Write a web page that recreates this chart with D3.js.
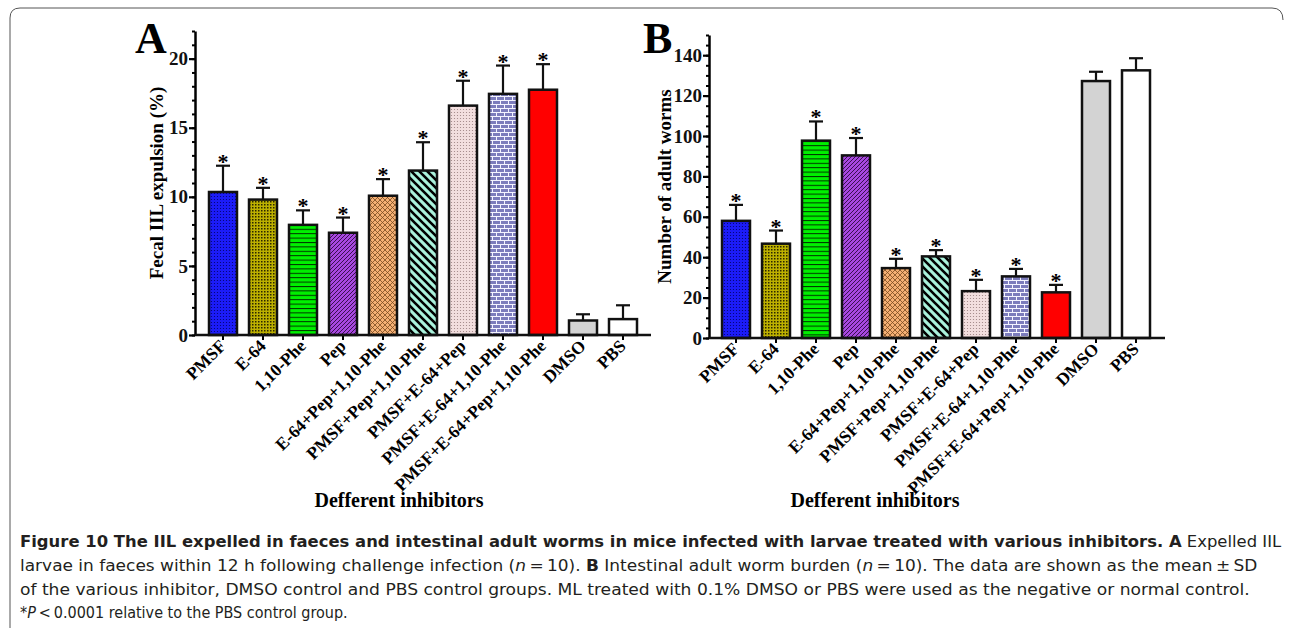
<!DOCTYPE html>
<html>
<head>
<meta charset="utf-8">
<script src="https://cdn.jsdelivr.net/npm/d3@7"></script>
<style>
  body { margin: 0; background: #fff; }
  .serif { font-family: 'Liberation Serif', 'Times New Roman', serif; font-weight: bold; }
  .caption { font-family: 'DejaVu Sans Condensed', 'DejaVu Sans', sans-serif; font-stretch: condensed; font-size: 16.5px; fill: #231f20; }
</style>
</head>
<body>
<script>
// chart data
const groups = ['PMSF', 'E-64', '1,10-Phe', 'Pep', 'E-64+Pep+1,10-Phe', 'PMSF+Pep+1,10-Phe',
  'PMSF+E-64+Pep', 'PMSF+E-64+1,10-Phe', 'PMSF+E-64+Pep+1,10-Phe', 'DMSO', 'PBS'];
const expulsionMean = [10.35, 9.8, 7.97, 7.4, 10.08, 11.9, 16.6, 17.45, 17.75, 1.05, 1.15];
const expulsionSD   = [1.9, 0.85, 1.05, 1.1, 1.2, 2.05, 1.8, 2.05, 1.85, 0.45, 1.0];
const wormMean = [58, 46.7, 97.7, 90.4, 34.6, 40.4, 23.2, 30.5, 22.6, 127.2, 132.5];
const wormSD   = [7.9, 6.5, 9.5, 8.6, 4.6, 3.1, 5.6, 3.7, 3.7, 4.6, 6.0];
const significant = [true, true, true, true, true, true, true, true, true, false, false];
const expulsionTicks = [0, 5, 10, 15, 20];
const wormTicks = [0, 20, 40, 60, 80, 100, 120, 140];

const barFills = ['url(#p-pmsf)', 'url(#p-e64)', 'url(#p-phe)', 'url(#p-pep)', 'url(#p-c1)',
  'url(#p-c2)', 'url(#p-c3)', 'url(#p-c4)', '#ff0000', '#d3d3d3', '#ffffff'];

const svg = d3.select('body')
  .append('svg')
    .attr('width', 1292)
    .attr('height', 631);

// fill patterns
const defs = svg.append('defs');
function pattern(id, w, h, bg) {
  const p = defs.append('pattern')
    .attr('id', id)
    .attr('patternUnits', 'userSpaceOnUse')
    .attr('width', w)
    .attr('height', h);
  p.append('rect').attr('width', w).attr('height', h).attr('fill', bg);
  return p;
}
pattern('p-pmsf', 3, 3, '#1c1cf8')
  .append('circle').attr('cx', 1.5).attr('cy', 1.5).attr('r', 0.6).attr('fill', '#00006a');
const e64 = pattern('p-e64', 3, 3, '#bdb000');
e64.append('rect').attr('width', 1.5).attr('height', 1.5).attr('fill', '#2a2600');
pattern('p-phe', 10, 4.4, '#00f000')
  .append('rect').attr('width', 10).attr('height', 1).attr('fill', '#003000');
pattern('p-pep', 4, 4, '#a848e0')
  .append('path').attr('d', 'M0,4L4,0M-1,1L1,-1M3,5L5,3').attr('stroke', '#3a1050').attr('stroke-width', 1);
pattern('p-c1', 5, 5, '#f4b074')
  .append('path').attr('d', 'M0,5L5,0M0,0L5,5').attr('stroke', '#7a4a20').attr('stroke-width', 0.8);
pattern('p-c2', 8, 8, '#aaf2dc')
  .append('path').attr('d', 'M0,0L8,8M-4,4L4,12M4,-4L12,4').attr('stroke', '#000').attr('stroke-width', 2.6);
pattern('p-c3', 3, 3, '#f2dede')
  .append('circle').attr('cx', 1.5).attr('cy', 1.5).attr('r', 0.6).attr('fill', '#9a8080');
const brick = pattern('p-c4', 8, 8, '#7c7cbc');
brick.append('path')
  .attr('d', 'M0,0.5H8M0,4.5H8M0.5,0V4M4.5,4V8')
  .attr('stroke', '#f4f4ff').attr('stroke-width', 1);

// figure frame
svg.append('path')
  .attr('d', 'M10,628 L10,18 Q10,8 20,8 L1272,8 Q1283,8 1283,20')
  .attr('fill', 'none')
  .attr('stroke', '#555')
  .attr('stroke-width', 1);

function drawPanel(opt) {
  const g = svg.append('g');

  const y = d3.scaleLinear()
    .domain([0, opt.yMax])
    .range([opt.y0, opt.yTop]);

  const x = d3.scaleBand()
    .domain(groups)
    .range([opt.barStart, opt.barStart + 428])
    .paddingInner(0.3)
    .paddingOuter(0);

  const bw = x.bandwidth();

  // bars
  g.selectAll('rect.bar')
    .data(groups)
    .join('rect')
      .attr('class', 'bar')
      .attr('x', d => x(d))
      .attr('y', (d, i) => y(opt.means[i]))
      .attr('width', bw)
      .attr('height', (d, i) => opt.y0 - y(opt.means[i]))
      .attr('fill', (d, i) => barFills[i])
      .attr('stroke', '#111')
      .attr('stroke-width', 2.5);

  // error bars (upper only)
  const err = g.selectAll('g.err')
    .data(groups)
    .join('g')
      .attr('class', 'err')
      .attr('stroke', '#111')
      .attr('stroke-width', 2.2);
  err.append('line')
    .attr('x1', d => x(d) + bw / 2)
    .attr('x2', d => x(d) + bw / 2)
    .attr('y1', (d, i) => y(opt.means[i]))
    .attr('y2', (d, i) => y(opt.means[i] + opt.sds[i]));
  err.append('line')
    .attr('x1', d => x(d) + bw / 2 - 7)
    .attr('x2', d => x(d) + bw / 2 + 7)
    .attr('y1', (d, i) => y(opt.means[i] + opt.sds[i]))
    .attr('y2', (d, i) => y(opt.means[i] + opt.sds[i]));

  // significance stars
  g.selectAll('text.star')
    .data(groups.filter((d, i) => significant[i]))
    .join('text')
      .attr('class', 'star serif')
      .attr('x', d => x(d) + bw / 2)
      .attr('y', d => { const i = groups.indexOf(d); return y(opt.means[i] + opt.sds[i]) + 3; })
      .attr('text-anchor', 'middle')
      .attr('font-size', 22)
      .text('*');

  // y axis with minor ticks
  const minor = g.append('g')
    .attr('transform', `translate(${opt.axisX},0)`)
    .call(d3.axisLeft(y).tickValues(d3.range(0, opt.yMax + 0.01, opt.minorStep)).tickSize(3).tickFormat(''));
  minor.select('.domain').remove();
  minor.selectAll('line').attr('stroke-width', 2);

  const yAxis = g.append('g')
    .attr('transform', `translate(${opt.axisX},0)`)
    .attr('class', 'serif')
    .call(d3.axisLeft(y).tickValues(opt.ticks).tickSize(6).tickSizeOuter(0).tickPadding(1));
  yAxis.select('.domain').attr('stroke-width', 2.5);
  yAxis.selectAll('line').attr('stroke-width', 2.2);
  yAxis.selectAll('text').attr('font-size', 19).attr('fill', '#111').attr('font-family', null);

  // x axis
  const xAxis = g.append('g')
    .attr('transform', `translate(0,${opt.y0})`)
    .call(d3.axisBottom(x).tickSize(5).tickFormat(''));
  xAxis.select('.domain').remove();
  xAxis.selectAll('line').attr('stroke-width', 2);
  g.append('line')
    .attr('x1', opt.axisX).attr('x2', opt.axisEnd)
    .attr('y1', opt.y0).attr('y2', opt.y0)
    .attr('stroke', '#111').attr('stroke-width', 2.5);

  g.selectAll('text.xlab')
    .data(groups)
    .join('text')
      .attr('class', 'xlab serif')
      .attr('transform', d => `translate(${x(d) + bw / 2 + 4},${opt.y0 + 12}) rotate(-45)`)
      .attr('text-anchor', 'end')
      .attr('font-size', 17.5)
      .text(d => d);

  // titles
  g.append('text')
    .attr('class', 'serif')
    .attr('transform', `translate(${opt.yTitleX},${(opt.y0 + opt.yTop) / 2}) rotate(-90)`)
    .attr('text-anchor', 'middle')
    .attr('font-size', 19)
    .text(opt.yTitle);

  g.append('text')
    .attr('class', 'serif')
    .attr('x', opt.xTitleX)
    .attr('y', 507)
    .attr('text-anchor', 'middle')
    .attr('font-size', 20)
    .text('Defferent inhibitors');

  g.append('text')
    .attr('class', 'serif')
    .attr('x', opt.letterX)
    .attr('y', 53)
    .attr('font-size', 44)
    .text(opt.letter);
}

drawPanel({
  means: expulsionMean, sds: expulsionSD, ticks: expulsionTicks,
  yMax: 22, minorStep: 1, y0: 335, yTop: 31,
  axisX: 195, axisEnd: 651, barStart: 209, yTitleX: 163,
  yTitle: 'Fecal IIL expulsion (%)', xTitleX: 399, letter: 'A', letterX: 135
});

drawPanel({
  means: wormMean, sds: wormSD, ticks: wormTicks,
  yMax: 150, minorStep: 5, y0: 338, yTop: 35,
  axisX: 709, axisEnd: 1165, barStart: 722, yTitleX: 671,
  yTitle: 'Number of adult worms', xTitleX: 875, letter: 'B', letterX: 643
});

// caption
const capLines = [
  { y: 547, w: 1262, parts: [
    ['b', 'Figure 10  The IIL expelled in faeces and intestinal adult worms in mice infected with larvae treated with various inhibitors. A'],
    ['', ' Expelled IIL']] },
  { y: 571, w: 1238, parts: [
    ['', 'larvae in faeces within 12 h following challenge infection ('], ['i', 'n'], ['', '\u2009=\u200910). '],
    ['b', 'B'], ['', ' Intestinal adult worm burden ('], ['i', 'n'], ['', '\u2009=\u200910). The data are shown as the mean\u2009\u00b1\u2009SD']] },
  { y: 595, w: 1231, parts: [
    ['', 'of the various inhibitor, DMSO control and PBS control groups. ML treated with 0.1% DMSO or PBS were used as the negative or normal control.']] },
  { y: 618, w: 328, parts: [
    ['', '*'], ['i', 'P'], ['', '\u2009<\u20090.0001 relative to the PBS control group.']] }
];

capLines.forEach(line => {
  const t = svg.append('text')
    .attr('class', 'caption')
    .attr('x', 0)
    .attr('y', 0);
  line.parts.forEach(p => {
    t.append('tspan')
      .attr('font-weight', p[0] === 'b' ? 'bold' : null)
      .attr('font-style', p[0] === 'i' ? 'italic' : null)
      .text(p[1]);
  });
  const len = t.node().getComputedTextLength();
  t.attr('transform', `translate(20,${line.y}) scale(${line.w / len},1)`);
});
</script>
</body>
</html>
